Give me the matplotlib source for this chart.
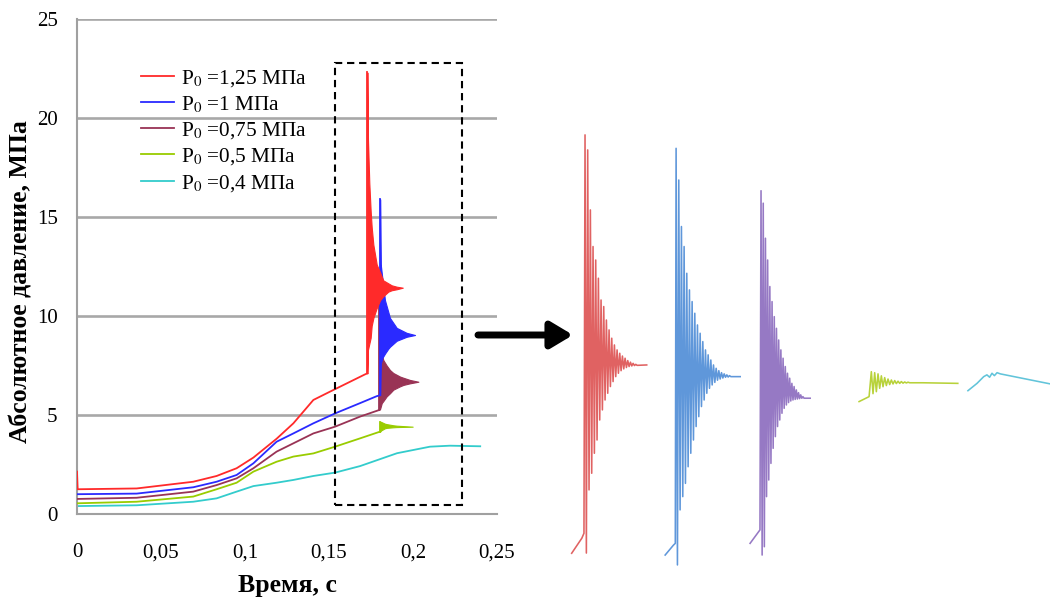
import matplotlib
matplotlib.use('Agg')
import matplotlib.pyplot as plt
from matplotlib.patches import Rectangle, FancyArrowPatch

plt.rcParams['font.family'] = ['Liberation Serif', 'DejaVu Serif']
plt.rcParams['mathtext.fontset'] = 'stix'

# ---------------- data (main chart) ----------------
labels = ["P$_0$ =1,25 МПа", "P$_0$ =1 МПа", "P$_0$ =0,75 МПа", "P$_0$ =0,5 МПа", "P$_0$ =0,4 МПа"]
colors = ['#ff2a2a', '#2a2aff', '#993355', '#99cc00', '#33cccc']

x_ticks = [0, 0.05, 0.1, 0.15, 0.2, 0.25]
x_ticklabels = ['0', '0,05', '0,1', '0,15', '0,2', '0,25']
y_ticks = [0, 5, 10, 15, 20, 25]

red_t = [0, 0.0004, .0355, .0692, .0831, .095, .105, .1188, .1288, .1407, .1506, .1714, .1728]
red_p = [2.14, 1.25, 1.29, 1.63, 1.92, 2.31, 2.85, 3.8, 4.58, 5.76, 6.18, 7.05, 7.1]
blue_t = [0, .0355, .0692, .0831, .095, .105, .1188, .1288, .1407, .1536, .1685, .1784, .1804]
blue_p = [1.0, 1.03, 1.35, 1.63, 1.97, 2.56, 3.65, 4.07, 4.58, 5.08, 5.6, 5.95, 6.0]
purple_t = [0, .0355, .0692, .0831, .095, .105, .1188, .1288, .1407, .1536, .1685, .1798]
purple_p = [0.76, 0.82, 1.13, 1.46, 1.8, 2.31, 3.15, 3.57, 4.07, 4.41, 4.92, 5.25]
green_t = [0, .0355, .0692, .0831, .095, .105, .1188, .1288, .1407, .1536, .1685, .1804]
green_p = [0.54, 0.62, 0.88, 1.25, 1.58, 2.14, 2.64, 2.9, 3.06, 3.4, 3.82, 4.16]
cyan_t = [0, .0355, .0692, .0831, .095, .105, .1188, .1288, .1407, .1536, .1685, .1905, .2101, .222, .24]
cyan_p = [0.40, 0.44, 0.62, 0.79, 1.13, 1.41, 1.58, 1.72, 1.92, 2.09, 2.42, 3.07, 3.4, 3.45, 3.42]

# oscillation envelopes (upper / lower) after the pressure jump
red_env_t = [.1728, .1732, .1740, .1748, .1754, .1764, .1784, .1804, .1823, .1853, .1873, .1903, .1939]
red_env_hi = [22.3, 18.9, 16.7, 15.3, 14.5, 13.6, 12.6, 12.2, 11.8, 11.65, 11.55, 11.48, 11.43]
red_env_lo = [7.1, 8.3, 8.6, 8.9, 9.5, 9.9, 10.4, 10.8, 11.0, 11.23, 11.3, 11.35, 11.43]
blue_env_t = [.1804, .1808, .1819, .1833, .1853, .1863, .1903, .1962, .2012]
blue_env_hi = [15.9, 12.6, 11.8, 10.8, 10.2, 9.9, 9.4, 9.15, 9.04]
blue_env_lo = [6.0, 7.6, 7.9, 8.1, 8.35, 8.45, 8.75, 8.95, 9.04]
purple_env_t = [.1798, .1804, .1814, .1823, .1843, .1863, .1883, .1923, .1943, .1982, .2032]
purple_env_hi = [11.2, 8.6, 8.1, 7.78, 7.5, 7.27, 7.12, 6.94, 6.88, 6.77, 6.68]
purple_env_lo = [5.25, 5.3, 5.6, 5.7, 5.94, 6.1, 6.28, 6.45, 6.52, 6.6, 6.68]
green_env_t = [.1804, .1808, .1833, .1843, .1883, .1903, .1998]
green_env_hi = [4.66, 4.66, 4.56, 4.54, 4.48, 4.46, 4.41]
green_env_lo = [4.16, 4.21, 4.33, 4.35, 4.38, 4.39, 4.41]

# highlighted region (time, pressure)
box_t = (0.1536, 0.229)
box_p = (0.45, 22.8)

# ---------------- data (zoomed insets, time in ms) ----------------
inset_colors = ['#e06262', '#5f97da', '#9679c4', '#b8d23a', '#62c4da']
inset_ylim = (0.54, 23.77)

red_in = dict(lead_t=[-5.0, -1.2, -0.4], lead_p=[1.89, 2.65, 2.9], t0=0.0, period=1.0,
              hi=[23.02, 22.26, 19.23, 17.38, 16.70, 15.78, 14.68, 14.35, 13.67, 13.17,
                  12.75, 12.41, 12.16, 11.99, 11.85, 11.74, 11.62, 11.54, 11.48, 11.43],
              lo=[1.9, 5.09, 5.93, 6.94, 7.61, 8.62, 9.13, 9.63, 9.97, 10.31,
                  10.56, 10.81, 10.98, 11.11, 11.20, 11.27, 11.32, 11.35, 11.37, 11.38],
              tail_t=[23.1], tail_p=[11.40])
blue_in = dict(lead_t=[-4.1, -1.0, -0.3], lead_p=[1.80, 2.30, 2.39], t0=0.0, period=1.0,
               hi=[22.34, 20.74, 18.39, 17.38, 16.03, 15.19, 14.60, 14.01, 13.42, 13.00, 12.58,
                   12.16, 11.91, 11.65, 11.40, 11.23, 11.11, 11.01, 10.95, 10.90, 10.86],
               lo=[1.30, 4.08, 4.75, 5.42, 6.26, 6.94, 7.61, 8.29, 8.79, 9.30, 9.63,
                   9.97, 10.22, 10.39, 10.52, 10.63, 10.69, 10.74, 10.78, 10.79, 10.81],
               tail_t=[24.0], tail_p=[10.81])
purple_in = dict(lead_t=[-4.1, -0.4], lead_p=[2.39, 3.07], t0=0.0, period=0.825,
                 hi=[20.20, 19.57, 17.80, 16.70, 15.36, 14.60, 13.84, 13.25, 12.66, 12.16,
                     11.74, 11.32, 10.98, 10.73, 10.47, 10.31, 10.14, 10.00, 9.89, 9.80],
                 lo=[1.80, 2.22, 4.75, 5.59, 6.43, 7.19, 7.78, 8.29, 8.62, 8.96,
                     9.21, 9.38, 9.50, 9.58, 9.63, 9.66, 9.68, 9.70, 9.72, 9.72],
                 tail_t=[18.4], tail_p=[9.72])
green_in = dict(lead_t=[0.0, 3.75], lead_p=[9.55, 9.80], t0=4.6, period=1.25,
                hi=[11.06, 11.01, 10.95, 10.85, 10.76, 10.69, 10.64, 10.61, 10.58, 10.56, 10.54, 10.53],
                lo=[9.95, 10.05, 10.22, 10.30, 10.36, 10.41, 10.44, 10.46, 10.47, 10.48, 10.49, 10.50],
                tail_t=[24.0, 37.0], tail_p=[10.50, 10.47])
cyan_in_t = [0, 3.4, 5.9, 7.1, 8.1, 9.0, 9.9, 10.9, 12.1, 30.9]
cyan_in_p = [10.10, 10.47, 10.81, 10.90, 10.78, 10.98, 10.86, 11.01, 10.95, 10.44]

# ---------------- figure ----------------
W, H = 1050, 599
fig = plt.figure(figsize=(W / 100, H / 100), dpi=100)
fig.patch.set_facecolor('white')

def px_axes(x0, x1, ytop, ybot):
    return fig.add_axes([x0 / W, 1 - ybot / H, (x1 - x0) / W, (ybot - ytop) / H])

ax = px_axes(77, 497, 19, 514)
ax.set_xlim(0, 0.25)
ax.set_ylim(0, 25)
for y in y_ticks[1:]:
    ax.axhline(y, color='#a8a8a8', lw=1.9, zorder=0)
for s in ['top', 'right']:
    ax.spines[s].set_visible(False)
for s in ['left', 'bottom']:
    ax.spines[s].set_color('#a0a0a0')
    ax.spines[s].set_linewidth(1.5)
ax.set_xticks(x_ticks)
ax.set_xticklabels(x_ticklabels)
ax.set_yticks(y_ticks)
ax.tick_params(length=0, labelsize=15)
ax.tick_params(axis='y', pad=14)
ax.tick_params(axis='x', pad=21)
ax.set_xlabel('Время, с', fontsize=18.5, fontweight='bold')
ax.xaxis.set_label_coords(0.5, -0.122)
ax.set_ylabel('Абсолютное давление, МПа', fontsize=18.5, fontweight='bold')
ax.yaxis.set_label_coords(-0.105, 0.47)

series = [(red_t, red_p), (blue_t, blue_p), (purple_t, purple_p), (green_t, green_p), (cyan_t, cyan_p)]
envs = [(red_env_t, red_env_hi, red_env_lo), (blue_env_t, blue_env_hi, blue_env_lo),
        (purple_env_t, purple_env_hi, purple_env_lo), (green_env_t, green_env_hi, green_env_lo), None]
zorders = [6, 5, 4, 3, 2]
for (t, p), env, c, lab, z in zip(series, envs, colors, labels, zorders):
    ax.plot(t, p, color=c, lw=1.3, label=lab, zorder=z)
    if env is not None:
        et, hi, lo = env
        ax.fill_between(et, lo, hi, color=c, lw=0.8, zorder=z)
        ax.plot([t[-1], et[0]], [p[-1], hi[0]], color=c, lw=1.3, zorder=z)

ax.add_patch(Rectangle((box_t[0], box_p[0]), box_t[1] - box_t[0], box_p[1] - box_p[0],
                       fill=False, ec='black', lw=1.5, ls=(0, (3.5, 2.3)), zorder=8, clip_on=False))

leg = ax.legend(loc='upper left', bbox_to_anchor=(0.153, 0.901), frameon=False, fontsize=15.3,
                handlelength=1.55, handletextpad=0.33, labelspacing=0.25, borderaxespad=0, borderpad=0)

# ---------------- insets ----------------
def build(d):
    t = list(d['lead_t'])
    p = list(d['lead_p'])
    for k, (h, l) in enumerate(zip(d['hi'], d['lo'])):
        t += [d['t0'] + k * d['period'], d['t0'] + (k + 0.5) * d['period']]
        p += [h, l]
    return t + d['tail_t'], p + d['tail_p']

inset_specs = [
    (build(red_in), (565, 655), (-7.5, 26.2)),
    (build(blue_in), (655, 745), (-7.9, 25.8)),
    (build(purple_in), (745, 815), (-6.0, 20.2)),
    (build(green_in), (850, 965), (-3.4, 39.7)),
    ((cyan_in_t, cyan_in_p), (965, 1050), (-1.1, 30.7)),
]
for ((t, p), (x0, x1), xl), c in zip(inset_specs, inset_colors):
    ia = px_axes(x0, x1, 120, 580)
    ia.plot(t, p, color=c, lw=1.15)
    ia.set_xlim(*xl)
    ia.set_ylim(*inset_ylim)
    ia.axis('off')

# arrow
fig.add_artist(FancyArrowPatch(
    (478 / W, 1 - 335 / H), (573 / W, 1 - 335 / H), transform=fig.transFigure,
    arrowstyle='-|>,head_length=0.6,head_width=0.36', mutation_scale=22, lw=5, color='black',
    shrinkA=0, shrinkB=0))

fig.savefig('out.png', dpi=100)
